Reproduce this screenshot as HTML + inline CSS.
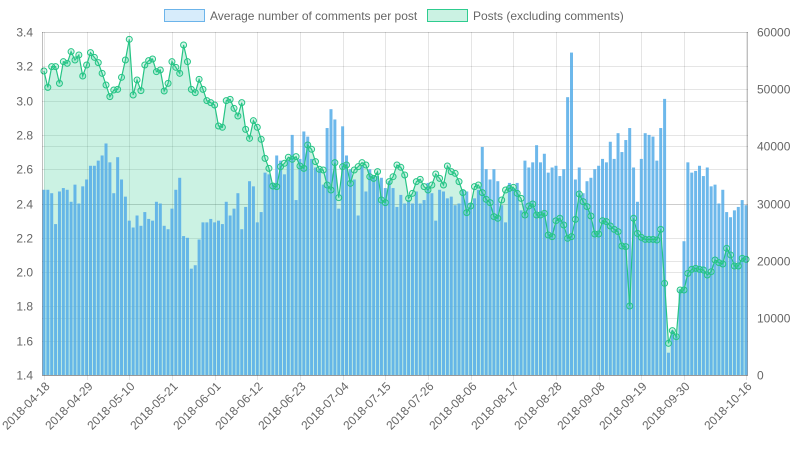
<!DOCTYPE html>
<html><head><meta charset="utf-8"><style>
html,body{margin:0;padding:0;background:#fff;}
svg{display:block;font-family:"Liberation Sans",Arial,sans-serif;}
</style></head><body>
<svg id="chart" width="798" height="450" viewBox="0 0 798 450" xmlns="http://www.w3.org/2000/svg">
<g>
 <g>
  <rect x="164.5" y="9.5" width="40" height="12" fill="rgba(54,162,235,0.2)" stroke="#6cb4ea" stroke-width="1"/>
  <text x="210" y="20" font-size="12" fill="#666">Average number of comments per post</text>
 </g>
 <g>
  <rect x="427.5" y="9.5" width="40" height="12" fill="rgba(46,204,143,0.25)" stroke="#2ecc8f" stroke-width="1"/>
  <text x="473" y="20" font-size="12" fill="#666">Posts (excluding comments)</text>
 </g>
</g>
<g id="grid"></g>
<g id="fill"></g>
<g id="bars"></g>
<g id="line"></g>
<g id="axes"></g>
</svg>
<script>
const avgComments = [2.48,2.48,2.46,2.28,2.47,2.49,2.48,2.41,2.51,2.40,2.50,2.54,2.62,2.62,2.65,2.68,2.75,2.64,2.46,2.67,2.54,2.44,2.30,2.26,2.33,2.27,2.35,2.31,2.30,2.41,2.40,2.27,2.25,2.37,2.48,2.55,2.21,2.20,2.02,2.04,2.19,2.29,2.29,2.31,
2.29,2.30,2.28,2.41,2.33,2.37,2.46,2.25,2.38,2.53,2.50,2.29,2.35,2.58,2.57,2.52,2.68,2.65,2.57,2.65,2.80,2.42,2.66,
2.82,2.79,2.66,2.61,2.60,2.51,2.84,2.95,2.89,2.37,2.85,2.68,2.60,2.54,2.33,2.62,2.47,2.60,2.56,2.56,2.55,2.49,2.53,
2.49,2.38,2.45,2.40,2.42,2.40,2.47,2.40,2.42,2.52,2.46,2.30,2.48,2.47,2.43,2.44,2.39,2.40,2.48,2.47,2.40,2.43,2.48,
2.73,2.60,2.54,2.60,2.53,2.39,2.29,2.52,2.49,2.52,2.36,2.65,2.61,2.64,2.74,2.64,2.69,2.58,2.61,2.62,2.56,2.60,
3.02,3.28,2.54,2.61,2.46,2.53,2.55,2.60,2.62,2.66,2.64,2.76,2.66,2.81,2.70,2.77,2.84,2.61,2.41,2.66,2.81,2.80,2.79,2.65,2.84,3.01,1.53,1.66,1.63,1.90,2.18,2.64,2.58,2.59,2.62,2.56,2.61,2.50,2.51,2.40,2.48,2.35,2.32,2.36,2.38,2.42,2.39];
const posts = [53180,50320,53940,53940,51020,54810,54520,56560,55100,55980,52300,54230,56390,55570,54640,52770,50730,48690,49850,49970,52070,55100,58720,48980,51610,49740,54230,54990,55280,53060,53350,49680,51020,54810,53820,52770,57730,54810,49970,49390,51720,49970,47990,47640,47230,43560,
43330,47990,48220,46650,45310,47640,42970,41400,44490,43330,41230,37900,36150,33060,32950,36440,37030,38080,37730,38200,36560,36150,40230,39480,37320,35980,35860,33240,32360,37140,31020,36440,36740,33530,35860,36440,37140,36740,34690,34400,35570,30610,30150,33820,34690,
36740,36330,34990,30900,31780,33820,34230,32950,32360,33240,35160,34400,33240,36560,35570,35280,33820,31900,28400,29560,32950,33240,31900,30730,30150,27700,27410,30610,32360,32650,32830,31780,30900,27990,29560,29910,27990,27990,28280,24490,24200,26990,27410,
26240,23910,24200,27230,31660,30320,29450,27810,24670,24670,26990,26820,26060,25480,25070,22570,22450,12070,27410,24780,24080,23730,23730,23730,23620,25480,16040,5540,7760,6700,14870,14870,17780,18480,18660,18480,18370,17490,18070,20120,19650,19420,22160,21000,19070,19070,20410,20230];
const xLabels = ["2018-04-18","2018-04-29","2018-05-10","2018-05-21","2018-06-01","2018-06-12","2018-06-23","2018-07-04","2018-07-15","2018-07-26","2018-08-06","2018-08-17","2018-08-28","2018-09-08","2018-09-19","2018-09-30","2018-10-16"];
const xLabelIdx = [0,11,22,33,44,55,66,77,88,99,110,121,132,143,154,165,181];
const leftTicks = [1.4,1.6,1.8,2.0,2.2,2.4,2.6,2.8,3.0,3.2,3.4];
const rightTicks = [0,10000,20000,30000,40000,50000,60000];

const NS="http://www.w3.org/2000/svg";
const L=42,R=748,T=32,B=375,N=avgComments.length;
const step=(R-L)/N;
function xPos(i){return L+step*(i+0.5);}
function yLeft(v){return B-(v-1.4)/2.0*(B-T);}
function yRight(v){return B-v/60000*(B-T);}
function mk(tag,attrs,parent){const e=document.createElementNS(NS,tag);for(const k in attrs)e.setAttribute(k,attrs[k]);parent.appendChild(e);return e;}
const grid=document.getElementById('grid'),axes=document.getElementById('axes');
leftTicks.forEach(v=>{const y=Math.round(yLeft(v))+0.5;
 const g=mk('line',{x1:L,x2:R,y1:y,y2:y,stroke:'rgba(0,0,0,0.1)'},grid);
 
 const t=mk('text',{x:L-9,y:y+4,'font-size':12,fill:'#666','text-anchor':'end'},axes);t.textContent=v.toFixed(1);
 });
rightTicks.forEach(v=>{const y=Math.round(yRight(v))+0.5;
 const g=mk('line',{x1:L,x2:R,y1:y,y2:y,stroke:'rgba(0,0,0,0.1)'},grid);
 
 const t=mk('text',{x:R+9,y:y+4,'font-size':12,fill:'#666'},axes);t.textContent=String(v);
 });
xLabelIdx.forEach((idx,k)=>{const x=Math.round(xPos(idx))+0.5;
 const g=mk('line',{x1:x,x2:x,y1:T,y2:B+5,stroke:'rgba(0,0,0,0.1)'},grid);
 
 const tx=x+6, ty=B+12;
 const t=mk('text',{x:tx,y:ty,'font-size':12,fill:'#666','text-anchor':'end',transform:`rotate(-45 ${tx} ${ty})`},axes);t.textContent=xLabels[k];
 });
mk('line',{x1:L+0.5,x2:L+0.5,y1:T,y2:B,stroke:'rgba(0,0,0,0.25)'},axes);
mk('line',{x1:R-0.5,x2:R-0.5,y1:T,y2:B,stroke:'rgba(0,0,0,0.25)'},axes);
mk('line',{x1:L,x2:R,y1:B+0.5,y2:B+0.5,stroke:'rgba(0,0,0,0.25)'},axes);
let d='M'+xPos(0)+','+B;posts.forEach((v,i)=>{d+=' L'+xPos(i).toFixed(2)+','+yRight(v).toFixed(2);});d+=' L'+xPos(N-1)+','+B+' Z';
const area=mk('path',{d:d,fill:'rgba(46,204,143,0.25)'},document.getElementById('fill'));

const bars=document.getElementById('bars');
avgComments.forEach((v,i)=>{const y=yLeft(v);
 const b=mk('rect',{x:(xPos(i)-1.5).toFixed(2),y:y.toFixed(2),width:3,height:(B-y).toFixed(2),fill:'rgba(84,172,232,0.85)'},bars);
 });
const lg=document.getElementById('line');
let ld='';posts.forEach((v,i)=>{ld+=(i?' L':'M')+xPos(i).toFixed(2)+','+yRight(v).toFixed(2);});
const pl=mk('path',{d:ld,fill:'none',stroke:'#26c485','stroke-width':1.2},lg);

posts.forEach((v,i)=>{const c=mk('circle',{cx:xPos(i).toFixed(2),cy:yRight(v).toFixed(2),r:3,fill:'rgba(46,204,143,0.2)',stroke:'#26c485','stroke-width':1},lg);
 });
</script>
</body></html>
